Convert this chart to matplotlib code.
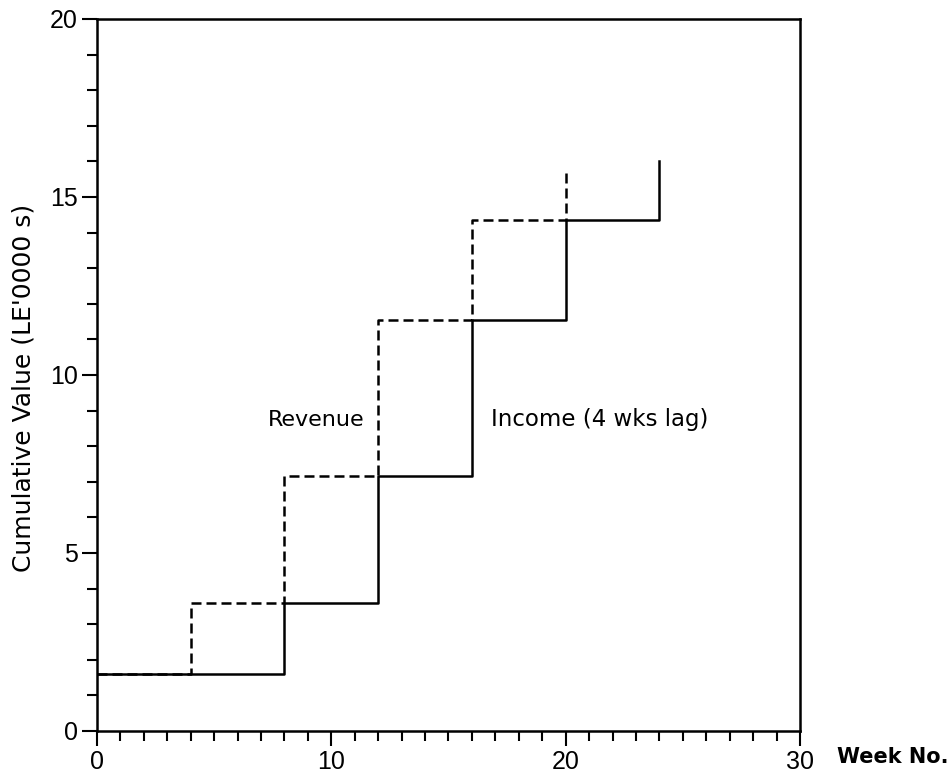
import matplotlib
matplotlib.use("Agg")
import matplotlib.pyplot as plt
from matplotlib.ticker import MultipleLocator

# Data
weeks_revenue = [0, 4, 8, 12, 16, 20]
revenue = [1.6, 3.6, 7.15, 11.55, 14.35, 15.8]
weeks_income = [0, 8, 12, 16, 20, 24]
income = [1.6, 3.6, 7.15, 11.55, 14.35, 16.0]
x_ticks = [0, 10, 20, 30]
y_ticks = [0, 5, 10, 15, 20]

plt.rcParams['font.family'] = ['DejaVu Sans']

fig = plt.figure(figsize=(9.53, 7.75), dpi=100)
ax = fig.add_axes([97/953, 1 - 731/775, (800-97)/953, (731-19)/775])

ax.step(weeks_revenue, revenue, where='post', color='black', lw=1.8,
        linestyle=(0, (4, 2)))
ax.step(weeks_income, income, where='post', color='black', lw=1.8)

ax.set_xlim(0, 30)
ax.set_ylim(0, 20)
ax.set_xticks(x_ticks)
ax.set_yticks(y_ticks)
ax.xaxis.set_minor_locator(MultipleLocator(1))
ax.yaxis.set_minor_locator(MultipleLocator(1))
ax.tick_params(axis='both', which='major', direction='out', length=11, width=1.5,
               labelsize=18, pad=3, labelfontfamily='Liberation Sans')
ax.tick_params(axis='both', which='minor', direction='out', length=7, width=1.5)
for s in ax.spines.values():
    s.set_linewidth(1.8)

fig.text(24/953, 1 - 388/775, "Cumulative Value (LE'0000 s)", fontsize=18,
         rotation=90, ha='center', va='center')
fig.text(837/953, 1 - 757/775, "Week No.", fontsize=15,
         fontweight='bold', ha='left', va='center')

ax.text(11.4, 8.75, "Revenue", fontsize=16, ha='right', va='center')
ax.text(16.8, 8.75, "Income (4 wks lag)", fontsize=16.5, ha='left', va='center')

fig.savefig("out.png", dpi=100)
